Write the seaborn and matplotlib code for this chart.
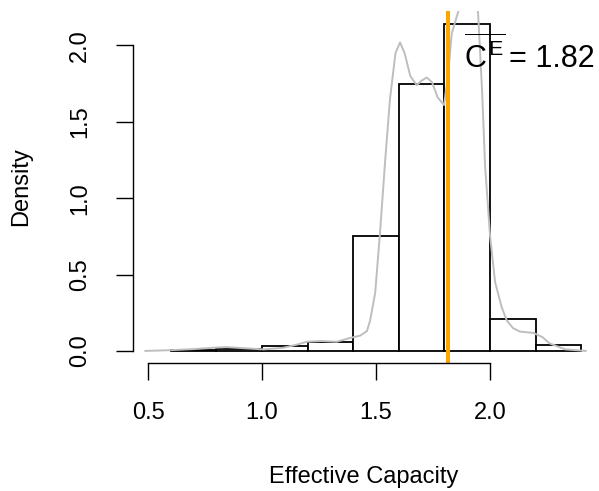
import matplotlib
matplotlib.use("Agg")
import matplotlib.pyplot as plt
import seaborn as sns
import numpy as np
import pandas as pd

sns.set_style("white")
plt.rcParams['font.family'] = ['Liberation Sans', 'DejaVu Sans']
plt.rcParams['mathtext.fontset'] = 'custom'
plt.rcParams['mathtext.rm'] = 'Liberation Sans'
plt.rcParams['mathtext.it'] = 'Liberation Sans'
plt.rcParams['mathtext.bf'] = 'Liberation Sans'
for k in ['text.color', 'axes.labelcolor', 'xtick.color', 'ytick.color']:
    plt.rcParams[k] = 'black'

# Histogram (density scale)
bin_edges = [0.6, 0.8, 1.0, 1.2, 1.4, 1.6, 1.8, 2.0, 2.2, 2.4]
bin_density = [0.005, 0.01, 0.03, 0.06, 0.755, 1.75, 2.14, 0.21, 0.04]

# Kernel density curve
kde_x = [0.487, 0.6, 0.7, 0.8, 0.845, 0.92, 1.005, 1.09, 1.15, 1.196, 1.26, 1.327, 1.386,
         1.43, 1.46, 1.474, 1.496, 1.517, 1.54, 1.561, 1.585, 1.605, 1.625, 1.65, 1.678,
         1.70, 1.722, 1.745, 1.77, 1.798, 1.815, 1.832, 1.86, 1.885, 1.905, 1.925, 1.947,
         1.965, 1.978, 2.0, 2.022, 2.05, 2.073, 2.1, 2.13, 2.19, 2.23, 2.26, 2.33, 2.42]
kde_y = [0.0, 0.005, 0.012, 0.022, 0.025, 0.018, 0.01, 0.02, 0.04, 0.06, 0.065, 0.06, 0.085,
         0.10, 0.13, 0.2, 0.38, 0.77, 1.25, 1.65, 1.95, 2.02, 1.95, 1.8, 1.74,
         1.77, 1.79, 1.76, 1.66, 1.61, 1.8, 2.08, 2.22, 2.40, 2.50, 2.45, 2.22,
         1.70, 1.21, 0.75, 0.45, 0.29, 0.2, 0.15, 0.127, 0.118, 0.09, 0.05, 0.01, 0.0]

mean_ce = 1.815
mean_label = "1.82"

centers = [(a + b) / 2 for a, b in zip(bin_edges[:-1], bin_edges[1:])]
df_hist = pd.DataFrame({"x": centers, "w": bin_density})
df_kde = pd.DataFrame({"x": kde_x, "y": kde_y})

fig = plt.figure(figsize=(5.99, 4.91), dpi=100)
ax = fig.add_axes([133 / 599, 1 - 363 / 491, (595 - 133) / 599, (363 - 11) / 491])

sns.histplot(data=df_hist, x="x", weights="w", bins=bin_edges, stat="count",
             color="white", edgecolor="black", linewidth=1.3, alpha=1, ax=ax)
sns.lineplot(data=df_kde, x="x", y="y", color="#BEBEBE", linewidth=1.4, ax=ax)
ax.axvline(mean_ce, color="#FFA500", linewidth=2.9)

ax.set_xlim(0.434, 2.46)
ax.set_ylim(-0.079, 2.2256)

ax.text(1.885, 1.856, r"$\overline{C^{E}}$", fontsize=22,
        ha="left", va="baseline")
ax.text(2.085, 1.856, "= " + mean_label, fontsize=22, ha="left", va="baseline")

for s in ["top", "right"]:
    ax.spines[s].set_visible(False)
ax.spines["left"].set_bounds(0, 2.0)
ax.spines["bottom"].set_bounds(0.5, 2.0)
for s in ["left", "bottom"]:
    ax.spines[s].set_color("black")
    ax.spines[s].set_linewidth(1.0)

ax.set_xticks([0.5, 1.0, 1.5, 2.0])
ax.set_xticklabels(["0.5", "1.0", "1.5", "2.0"])
ax.set_yticks([0.0, 0.5, 1.0, 1.5, 2.0])
ax.set_yticklabels(["0.0", "0.5", "1.0", "1.5", "2.0"])
ax.tick_params(axis="both", which="both", direction="out", length=12, width=1.0,
               color="black", labelcolor="black", labelsize=17, pad=16,
               bottom=True, left=True)
ax.tick_params(axis="y", labelrotation=90, pad=18)
for lab in ax.get_yticklabels():
    lab.set_va("center")
ax.set_xlabel("Effective Capacity", fontsize=17, labelpad=30)
ax.set_ylabel("Density", fontsize=17, labelpad=27)

fig.savefig("out.png", dpi=100)
